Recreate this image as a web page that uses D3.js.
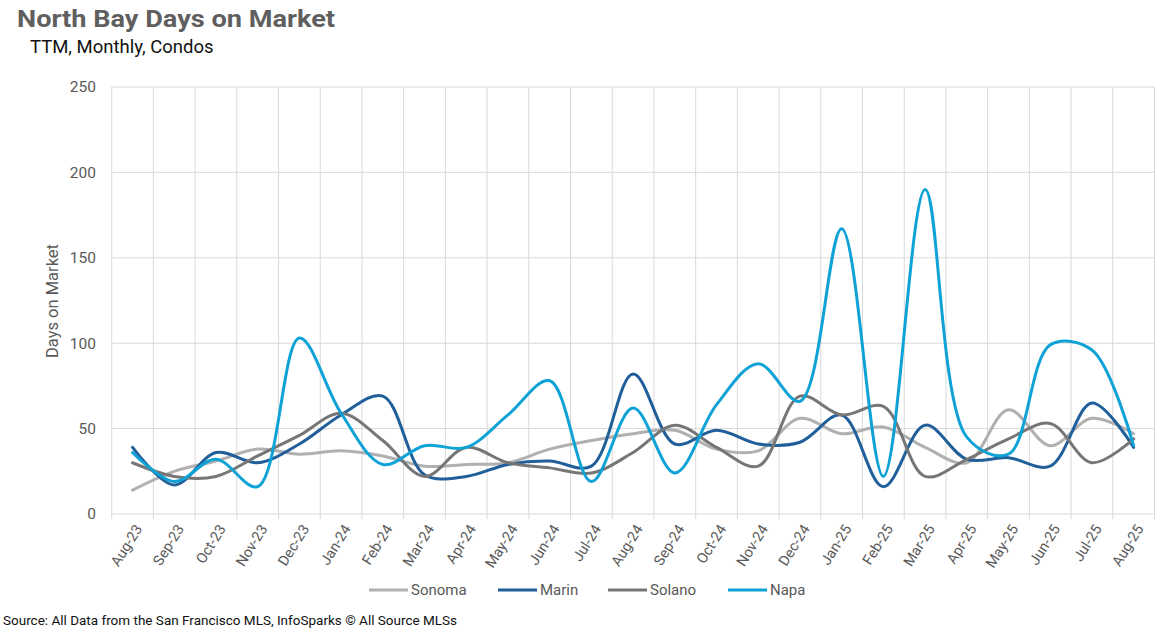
<!DOCTYPE html>
<html><head><meta charset="utf-8">
<script src="https://cdn.jsdelivr.net/npm/d3@7"></script>
<style>body{margin:0;background:#fff;} svg{display:block;font-family:Roboto, "Open Sans", sans-serif;}</style>
</head><body>
<svg id="c" width="1170" height="636"></svg>
<script>
const months = ["Aug-23","Sep-23","Oct-23","Nov-23","Dec-23","Jan-24","Feb-24","Mar-24","Apr-24","May-24","Jun-24","Jul-24","Aug-24","Sep-24","Oct-24","Nov-24","Dec-24","Jan-25","Feb-25","Mar-25","Apr-25","May-25","Jun-25","Jul-25","Aug-25"];
const sonoma = [14,25,31,38,35,37,34,28,29,30,38,43,47,49,38,37,56,47,51,39,30,61,40,56,47];
const marin  = [39,17,36,30,41,58,69,23,22,29,31,28,82,41,49,41,42,58,16,52,32,33,28,65,39];
const solano = [30,22,22,34,46,59,43,22,39,30,27,24,36,52,39,28,69,58,63,22,32,44,53,30,44];
const napa   = [36,19,32,16,103,59,29,40,39,58,78,19,62,24,64,88,66,167,22,190,45,35,99,96,40];
const yTicks = [0,50,100,150,200,250];
const seriesNames = ["Sonoma","Marin","Solano","Napa"];
const seriesColors = ["#b0b0b0","#215f9a","#767676","#0fa2d6"];
const seriesData = [sonoma, marin, solano, napa];

const svg = d3.select("#c");
const x = d3.scaleBand().domain(months).range([111.7, 1154.5]).padding(0);
const y = d3.scaleLinear().domain([0,250]).range([514, 87]);
const grid = "#d9d9d9";

svg.append("g").selectAll("line").data(yTicks).join("line")
  .attr("x1", x.range()[0]).attr("x2", x.range()[1])
  .attr("y1", d=>y(d)).attr("y2", d=>y(d))
  .attr("stroke", grid).attr("stroke-width", 1);
const bounds = months.map(m=>x(m)).concat([x.range()[1]]);
svg.append("g").selectAll("line").data(bounds).join("line")
  .attr("x1", d=>d).attr("x2", d=>d)
  .attr("y1", y(250)).attr("y2", y(0)+5)
  .attr("stroke", grid).attr("stroke-width", 1);

svg.append("g").selectAll("text").data(yTicks).join("text")
  .attr("x", 96).attr("y", d=>y(d)).attr("dy","0.35em")
  .attr("text-anchor","end").attr("font-size",15.5).attr("fill","#595959")
  .text(d=>d);

svg.append("g").selectAll("text").data(months).join("text")
  .attr("transform", d=>`translate(${x(d)+x.bandwidth()/2+6},${y(0)+12}) rotate(-58)`)
  .attr("text-anchor","end").attr("dy","0.35em").attr("font-size",14.5).attr("fill","#595959")
  .text(d=>d);

svg.append("text").attr("transform","translate(58,301) rotate(-90)")
  .attr("text-anchor","middle").attr("font-size",16.5).attr("fill","#595959")
  .text("Days on Market");

const line = d3.line().x((d,i)=>x(months[i])+x.bandwidth()/2).y(d=>y(d)).curve(d3.curveCatmullRom.alpha(0.5));
svg.append("g").selectAll("path").data(seriesData).join("path")
  .attr("d", d=>line(d)).attr("fill","none")
  .attr("stroke",(d,i)=>seriesColors[i]).attr("stroke-width",3)
  .attr("stroke-linejoin","round").attr("stroke-linecap","round");

svg.append("text").attr("x",17).attr("y",27).attr("font-size",24).attr("font-weight","bold")
  .attr("fill","#5f5f5f").attr("textLength",318).attr("lengthAdjust","spacingAndGlyphs").text("North Bay Days on Market");
svg.append("text").attr("x",30).attr("y",53).attr("font-size",18.5).attr("fill","#111")
  .text("TTM, Monthly, Condos");

const legX = [369, 498, 608, 728];
const lg = svg.append("g");
seriesNames.forEach((n,i)=>{
  lg.append("line").attr("x1",legX[i]).attr("x2",legX[i]+39).attr("y1",590).attr("y2",590)
    .attr("stroke",seriesColors[i]).attr("stroke-width",3);
  lg.append("text").attr("x",legX[i]+42).attr("y",590).attr("dy","0.35em")
    .attr("font-size",15).attr("fill","#595959").text(n);
});

svg.append("text").attr("x",3).attr("y",625).attr("font-size",13.5).attr("fill","#111")
  .text("Source: All Data from the San Francisco MLS, InfoSparks © All Source MLSs");
</script>
</body></html>
